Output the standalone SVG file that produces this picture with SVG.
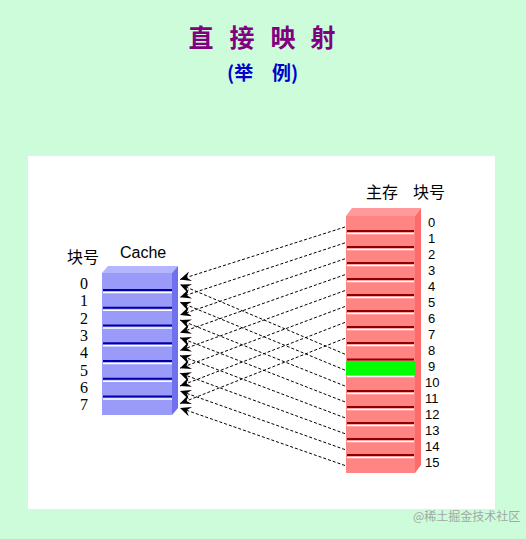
<svg xmlns="http://www.w3.org/2000/svg" width="526" height="539" viewBox="0 0 526 539">
<defs>
<style>
.t{font-family:"Noto Sans CJK SC",sans-serif;font-weight:bold}
.lbl{font-family:"Liberation Sans","Noto Sans CJK SC",sans-serif;font-size:16px;fill:#000}
.cn{font-family:"Liberation Serif",serif;font-size:16px;fill:#000;text-anchor:middle}
.mn{font-family:"Liberation Sans",sans-serif;font-size:13px;fill:#000}
.cd{stroke:#0000a8;stroke-width:2}
.cw{stroke:#ffffff;stroke-width:1.5}
.md{stroke:#8b0000;stroke-width:2}
.mw{stroke:#ffffff;stroke-width:1.5}
.c{stroke:#000;stroke-width:1;stroke-dasharray:3,2;fill:none;marker-end:url(#ah)}
</style>
<marker id="ah" markerUnits="userSpaceOnUse" markerWidth="12" markerHeight="10" refX="11" refY="5" orient="auto">
<path d="M0,0 L11,5 L0,10 L4,5 Z" fill="#000"/>
</marker>
</defs>
<rect x="0" y="0" width="526" height="539" fill="#cdfcdb"/>
<rect x="28" y="156" width="467" height="353" fill="#ffffff"/>

<g id="title">
<text class="t" font-size="25" fill="#800080" text-anchor="middle" x="201" y="47">直</text>
<text class="t" font-size="25" fill="#800080" text-anchor="middle" x="242" y="47">接</text>
<text class="t" font-size="25" fill="#800080" text-anchor="middle" x="283" y="47">映</text>
<text class="t" font-size="25" fill="#800080" text-anchor="middle" x="323" y="47">射</text>
<text class="t" font-size="19" fill="#0000cc" x="227" y="80">(举</text>
<text class="t" font-size="19" fill="#0000cc" x="272" y="80">例)</text>
</g>

<g id="cache">
<text class="lbl" x="67" y="263">块号</text>
<text class="lbl" x="120" y="258" font-size="15">Cache</text>
<polygon points="102,273 108,266 178,266 172,273" fill="#b4b4ff"/>
<polygon points="172,273 178,266 178,408 172,415" fill="#7070ee"/>
<rect x="102" y="273" width="70" height="142" fill="#9a9af8"/>
<g>
<line class="cd" x1="103" y1="290" x2="172" y2="290"/><line class="cw" x1="103" y1="292.5" x2="172" y2="292.5"/>
<line class="cd" x1="103" y1="307.8" x2="172" y2="307.8"/><line class="cw" x1="103" y1="310.3" x2="172" y2="310.3"/>
<line class="cd" x1="103" y1="325.5" x2="172" y2="325.5"/><line class="cw" x1="103" y1="328" x2="172" y2="328"/>
<line class="cd" x1="103" y1="343.3" x2="172" y2="343.3"/><line class="cw" x1="103" y1="345.8" x2="172" y2="345.8"/>
<line class="cd" x1="103" y1="361" x2="172" y2="361"/><line class="cw" x1="103" y1="363.5" x2="172" y2="363.5"/>
<line class="cd" x1="103" y1="378.8" x2="172" y2="378.8"/><line class="cw" x1="103" y1="381.3" x2="172" y2="381.3"/>
<line class="cd" x1="103" y1="396.5" x2="172" y2="396.5"/><line class="cw" x1="103" y1="399" x2="172" y2="399"/>
</g>
<text class="cn" x="84" y="289">0</text>
<text class="cn" x="84" y="306.3">1</text>
<text class="cn" x="84" y="323.6">2</text>
<text class="cn" x="84" y="340.9">3</text>
<text class="cn" x="84" y="358.2">4</text>
<text class="cn" x="84" y="375.5">5</text>
<text class="cn" x="84" y="392.8">6</text>
<text class="cn" x="84" y="410.1">7</text>
</g>

<g id="memory">
<text class="lbl" x="366" y="198">主存</text>
<text class="lbl" x="413" y="198">块号</text>
<polygon points="346,216 352,208 421,208 415,216" fill="#ff9a9a"/>
<polygon points="415,216 421,208 421,465 415,473" fill="#ff6a6a"/>
<rect x="346" y="216" width="69" height="257" fill="#ff8585"/>
<rect x="346" y="361" width="69" height="14" fill="#00ff00"/>
<g>
<line class="md" x1="347" y1="231" x2="414" y2="231"/><line class="mw" x1="347" y1="233.5" x2="414" y2="233.5"/>
<line class="md" x1="347" y1="247" x2="414" y2="247"/><line class="mw" x1="347" y1="249.5" x2="414" y2="249.5"/>
<line class="md" x1="347" y1="263" x2="414" y2="263"/><line class="mw" x1="347" y1="265.5" x2="414" y2="265.5"/>
<line class="md" x1="347" y1="279" x2="414" y2="279"/><line class="mw" x1="347" y1="281.5" x2="414" y2="281.5"/>
<line class="md" x1="347" y1="295" x2="414" y2="295"/><line class="mw" x1="347" y1="297.5" x2="414" y2="297.5"/>
<line class="md" x1="347" y1="311" x2="414" y2="311"/><line class="mw" x1="347" y1="313.5" x2="414" y2="313.5"/>
<line class="md" x1="347" y1="327" x2="414" y2="327"/><line class="mw" x1="347" y1="329.5" x2="414" y2="329.5"/>
<line class="md" x1="347" y1="343" x2="414" y2="343"/><line class="mw" x1="347" y1="345.5" x2="414" y2="345.5"/>
<line class="md" x1="347" y1="359.5" x2="414" y2="359.5"/>
<line class="mw" x1="347" y1="376.5" x2="414" y2="376.5"/>
<line class="md" x1="347" y1="391" x2="414" y2="391"/><line class="mw" x1="347" y1="393.5" x2="414" y2="393.5"/>
<line class="md" x1="347" y1="407" x2="414" y2="407"/><line class="mw" x1="347" y1="409.5" x2="414" y2="409.5"/>
<line class="md" x1="347" y1="423" x2="414" y2="423"/><line class="mw" x1="347" y1="425.5" x2="414" y2="425.5"/>
<line class="md" x1="347" y1="439" x2="414" y2="439"/><line class="mw" x1="347" y1="441.5" x2="414" y2="441.5"/>
<line class="md" x1="347" y1="455" x2="414" y2="455"/><line class="mw" x1="347" y1="457.5" x2="414" y2="457.5"/>
</g>
<text class="mn" x="428" y="227">0</text>
<text class="mn" x="428" y="243">1</text>
<text class="mn" x="428" y="259">2</text>
<text class="mn" x="428" y="275">3</text>
<text class="mn" x="428" y="291">4</text>
<text class="mn" x="428" y="307">5</text>
<text class="mn" x="428" y="323">6</text>
<text class="mn" x="428" y="339">7</text>
<text class="mn" x="428" y="355">8</text>
<text class="mn" x="428" y="371">9</text>
<text class="mn" x="425" y="387">10</text>
<text class="mn" x="425" y="403">11</text>
<text class="mn" x="425" y="419">12</text>
<text class="mn" x="425" y="435">13</text>
<text class="mn" x="425" y="451">14</text>
<text class="mn" x="425" y="467">15</text>
</g>

<g id="connectors">
<line class="c" x1="345" y1="227" x2="180" y2="279.5"/>
<line class="c" x1="345" y1="242.9" x2="180" y2="297.2"/>
<line class="c" x1="345" y1="258.8" x2="180" y2="315"/>
<line class="c" x1="345" y1="274.7" x2="180" y2="332.7"/>
<line class="c" x1="345" y1="290.6" x2="180" y2="350.5"/>
<line class="c" x1="345" y1="306.5" x2="180" y2="368.2"/>
<line class="c" x1="345" y1="322.4" x2="180" y2="386"/>
<line class="c" x1="345" y1="338.3" x2="180" y2="403.5"/>
<line class="c" x1="345" y1="354.2" x2="180" y2="284.5"/>
<line class="c" x1="345" y1="370.1" x2="180" y2="302.2"/>
<line class="c" x1="345" y1="386" x2="180" y2="320"/>
<line class="c" x1="345" y1="401.9" x2="180" y2="337.7"/>
<line class="c" x1="345" y1="417.8" x2="180" y2="355.5"/>
<line class="c" x1="345" y1="433.7" x2="180" y2="373.2"/>
<line class="c" x1="345" y1="449.6" x2="180" y2="391"/>
<line class="c" x1="345" y1="465.5" x2="180" y2="408"/>
</g>

<text x="413" y="521" font-family="Noto Sans CJK SC,sans-serif" font-size="12" fill="#a0a8a4">@稀土掘金技术社区</text>
</svg>
